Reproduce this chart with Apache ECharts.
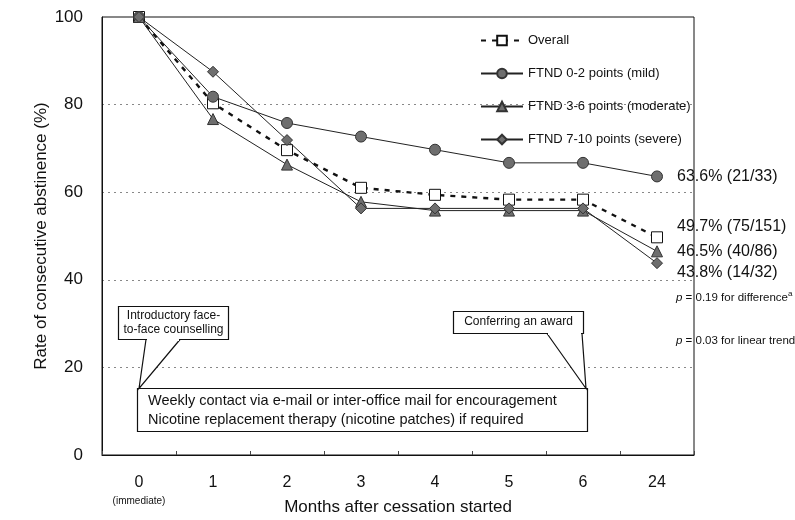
<!DOCTYPE html>
<html>
<head>
<meta charset="utf-8">
<script src="https://cdn.jsdelivr.net/npm/echarts@6/dist/echarts.min.js"></script>
<style>
html,body{margin:0;padding:0;background:#fff;}
#chart{width:795px;height:520px;}
</style>
</head>
<body>
<div id="chart"></div>
<script>
const categories = ['0', '1', '2', '3', '4', '5', '6', '24'];
const seriesNames = ['Overall', 'FTND 0-2 points (mild)', 'FTND 3-6 points (moderate)', 'FTND 7-10 points (severe)'];
const overall = [100, 80.3, 69.6, 61.0, 59.4, 58.3, 58.3, 49.7];
const mild = [100, 81.8, 75.8, 72.7, 69.7, 66.7, 66.7, 63.6];
const moderate = [100, 76.7, 66.3, 57.8, 55.8, 55.8, 55.8, 46.5];
const severe = [100, 87.5, 71.9, 56.3, 56.3, 56.3, 56.3, 43.8];
const endLabels = ['49.7% (75/151)', '63.6% (21/33)', '46.5% (40/86)', '43.8% (14/32)'];
const yTicks = [0, 20, 40, 60, 80, 100];

const FONT = '"Liberation Sans", Arial, Helvetica, sans-serif';
const chart = echarts.init(document.getElementById('chart'), null, {renderer: 'canvas'});

function withEndLabel(values, text, offY) {
  return values.map((v, i) => {
    if (i !== values.length - 1) return v;
    return {
      value: v,
      label: {
        show: true, formatter: text, position: 'right', distance: 14,
        offset: [0, offY], color: '#111', fontSize: 16, fontFamily: FONT
      }
    };
  });
}

const grayMarker = {color: '#6e6e6e', borderColor: '#333', borderWidth: 1};

const option = {
  backgroundColor: '#fff',
  animation: false,
  textStyle: {fontFamily: FONT},
  grid: {left: 102, right: 101, top: 17, bottom: 65, outerBoundsMode: 'none', containLabel: false,
    show: true, borderColor: '#111', borderWidth: 1, backgroundColor: 'transparent'},
  legend: {
    orient: 'vertical', left: 475, top: 29, itemWidth: 42, itemHeight: 12, itemGap: 20,
    textStyle: {fontSize: 13, color: '#111', fontFamily: FONT},
    data: seriesNames
  },
  xAxis: {
    type: 'category', data: categories, boundaryGap: true,
    axisLine: {lineStyle: {color: '#111', width: 1}},
    axisTick: {show: true, inside: true, length: 4, interval: 0, lineStyle: {color: '#444'}},
    axisLabel: {
      interval: 0, color: '#111', fontSize: 16, margin: 19, lineHeight: 18, fontFamily: FONT,
      formatter: (v, i) => i === 0 ? v + '\n{s|(immediate)}' : v,
      rich: {s: {fontSize: 10, color: '#111', lineHeight: 18, fontFamily: FONT}}
    },
    name: 'Months after cessation started', nameLocation: 'middle', nameGap: 44, nameMoveOverlap: false,
    nameTextStyle: {fontSize: 17, color: '#111', fontFamily: FONT}
  },
  yAxis: {
    type: 'value', min: yTicks[0], max: yTicks[yTicks.length - 1], interval: 20,
    axisLine: {show: true, lineStyle: {color: '#111', width: 1}},
    axisTick: {show: false},
    axisLabel: {color: '#111', fontSize: 17, margin: 19, fontFamily: FONT},
    splitLine: {show: true, lineStyle: {color: '#888', type: [2, 4], width: 1}},
    name: 'Rate of consecutive abstinence (%)', nameLocation: 'middle', nameGap: 52, nameMoveOverlap: false,
    nameTextStyle: {fontSize: 17, color: '#111', fontFamily: FONT}
  },
  series: [
    {
      name: seriesNames[0], type: 'line', data: withEndLabel(overall, endLabels[0], -11),
      symbol: 'rect', symbolSize: 11, z: 3,
      lineStyle: {color: '#111', width: 2.4, type: [5, 6]},
      itemStyle: {color: '#fff', borderColor: '#111', borderWidth: 1}
    },
    {
      name: seriesNames[1], type: 'line', data: withEndLabel(mild, endLabels[1], 0),
      symbol: 'circle', symbolSize: 11, z: 4,
      lineStyle: {color: '#222', width: 1},
      itemStyle: grayMarker
    },
    {
      name: seriesNames[2], type: 'line', data: withEndLabel(moderate, endLabels[2], 0),
      symbol: 'triangle', symbolSize: 11, z: 4,
      lineStyle: {color: '#222', width: 1},
      itemStyle: grayMarker
    },
    {
      name: seriesNames[3], type: 'line', data: withEndLabel(severe, endLabels[3], 9),
      symbol: 'diamond', symbolSize: 11, z: 4,
      lineStyle: {color: '#222', width: 1},
      itemStyle: grayMarker
    }
  ],
  graphic: [
    {type: 'text', left: 676, top: 290, z: 10, style: {
      text: '{i|p} = 0.19 for difference{s|a}', fill: '#111',
      rich: {i: {fontStyle: 'italic', fontSize: 11.5, fontFamily: FONT, fill: '#111'},
             s: {fontSize: 8, fontFamily: FONT, fill: '#111', verticalAlign: 'top', padding: [0, 0, 7, 0]}},
      font: '11.5px ' + FONT
    }},
    {type: 'text', left: 676, top: 333, z: 10, style: {
      text: '{i|p} = 0.03 for linear trend{s|b}', fill: '#111',
      rich: {i: {fontStyle: 'italic', fontSize: 11.5, fontFamily: FONT, fill: '#111'},
             s: {fontSize: 8, fontFamily: FONT, fill: '#111', verticalAlign: 'top', padding: [0, 0, 7, 0]}},
      font: '11.5px ' + FONT
    }},
    {type: 'rect', z: 10, shape: {x: 137.5, y: 388.5, width: 450, height: 43},
      style: {fill: '#fff', stroke: '#111', lineWidth: 1.2}},
    {type: 'text', z: 11, x: 148, y: 391, style: {
      text: 'Weekly contact via e-mail or inter-office mail for encouragement\nNicotine replacement therapy (nicotine patches) if required',
      font: '14.5px ' + FONT, fill: '#111', lineHeight: 19
    }},
    {type: 'polygon', z: 12, shape: {points: [[146, 339.5], [139, 388.5], [180, 339.5]]},
      style: {fill: '#fff', stroke: '#111', lineWidth: 1.2}},
    {type: 'rect', z: 11, shape: {x: 118.5, y: 306.5, width: 110, height: 33},
      style: {fill: '#fff', stroke: '#111', lineWidth: 1.2}},
    {type: 'rect', z: 13, shape: {x: 147, y: 338, width: 32, height: 3}, style: {fill: '#fff'}},
    {type: 'text', z: 14, x: 173.5, y: 309, style: {
      text: 'Introductory face-\nto-face counselling', font: '12px ' + FONT, fill: '#111',
      align: 'center', lineHeight: 14
    }},
    {type: 'polygon', z: 12, shape: {points: [[547, 333.5], [586, 388.5], [582, 333.5]]},
      style: {fill: '#fff', stroke: '#111', lineWidth: 1.2}},
    {type: 'rect', z: 11, shape: {x: 453.5, y: 311.5, width: 130, height: 22},
      style: {fill: '#fff', stroke: '#111', lineWidth: 1.2}},
    {type: 'rect', z: 13, shape: {x: 548, y: 332, width: 33, height: 3}, style: {fill: '#fff'}},
    {type: 'text', z: 14, x: 518.5, y: 316, style: {
      text: 'Conferring an award', font: '12px ' + FONT, fill: '#111', align: 'center'
    }}
  ]
};
chart.setOption(option);
</script>
</body>
</html>
